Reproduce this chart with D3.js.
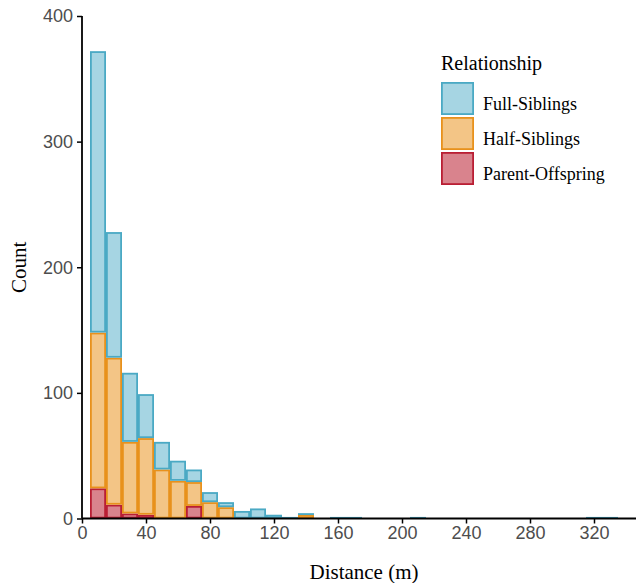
<!DOCTYPE html>
<html>
<head>
<meta charset="utf-8">
<script src="https://d3js.org/d3.v7.min.js"></script>
<style>
  body { margin: 0; background: #fff; }
  svg { display: block; }
</style>
</head>
<body>
<svg id="chart" width="636" height="583"></svg>
<script>
// histogram bins: width 10 m, starting at 5 m
var binStart = 5;
var binWidth = 10;
var binCount = 33;

// counts per bin, stacked bottom to top
var parentOffspring = [24, 11, 4, 3, 0, 0, 10, 0, 0, 0, 0, 0, 0, 0, 0, 0, 0,
    0, 0, 0, 0, 0, 0, 0, 0, 0, 0, 0, 0, 0, 0, 0, 0];
var halfSiblings = [124, 117, 57, 61, 39, 30, 19, 13, 9, 0, 0, 0, 0, 3, 0, 0, 0,
    0, 0, 0, 0, 0, 0, 0, 0, 0, 0, 0, 0, 0, 0, 0, 0];
var fullSiblings = [224, 100, 55, 35, 22, 16, 10, 8, 4, 6, 8, 3, 1, 1, 0, 1, 1,
    0, 0, 0, 1, 0, 0, 0, 0, 0, 0, 0, 0, 0, 0, 1, 1];

var relationships = ["Full-Siblings", "Half-Siblings", "Parent-Offspring"];
var xTicks = [0, 40, 80, 120, 160, 200, 240, 280, 320];
var yTicks = [0, 100, 200, 300, 400];

var colors = {
    "Full-Siblings": { fill: "#a6d5e3", stroke: "#4aa9c4" },
    "Half-Siblings": { fill: "#f3c586", stroke: "#e8911c" },
    "Parent-Offspring": { fill: "#d9838d", stroke: "#b91e34" }
};

var svg = d3.select("#chart");
var plotLeft = 82, plotRight = 636, plotTop = 16, plotBottom = 518.5;

var x = d3.scaleLinear().domain([0, 346.25]).range([plotLeft, plotRight]);
var y = d3.scaleLinear().domain([0, 400]).range([plotBottom, plotTop]);

// stack rows
var rows = d3.range(binCount).map(function (i) {
    return {
        x0: binStart + i * binWidth,
        x1: binStart + (i + 1) * binWidth,
        "Parent-Offspring": parentOffspring[i],
        "Half-Siblings": halfSiblings[i],
        "Full-Siblings": fullSiblings[i]
    };
});
var stack = d3.stack().keys(["Parent-Offspring", "Half-Siblings", "Full-Siblings"]);
var series = stack(rows);

var g = svg.append("g");
series.forEach(function (s) {
    g.selectAll(".bar-" + s.index)
        .data(s.filter(function (d) { return d[1] > d[0]; }))
        .enter().append("rect")
        .attr("x", function (d) { return x(d.data.x0) + 0.9; })
        .attr("width", function (d) { return x(d.data.x1) - x(d.data.x0) - 1.8; })
        .attr("y", function (d) {
            var h = y(d[0]) - y(d[1]);
            return h > 1.9 ? y(d[1]) + 0.9 : y(d[0]) - h / 2 - 0.05;
        })
        .attr("height", function (d) { return Math.max(0.1, y(d[0]) - y(d[1]) - 1.8); })
        .attr("fill", colors[s.key].fill)
        .attr("stroke", colors[s.key].stroke)
        .attr("stroke-width", 1.8);
});

// axes
var tickFont = "'Liberation Sans', Arial, sans-serif";
var xAxis = svg.append("g")
    .attr("transform", "translate(0," + plotBottom + ")")
    .call(d3.axisBottom(x).tickValues(xTicks).tickSize(5).tickPadding(3));
var yAxis = svg.append("g")
    .attr("transform", "translate(" + plotLeft + ",0)")
    .call(d3.axisLeft(y).tickValues(yTicks).tickSize(5).tickPadding(4));

[xAxis, yAxis].forEach(function (a) {
    a.select(".domain").attr("stroke", "#000").attr("stroke-width", 1.8);
    a.selectAll(".tick line").attr("stroke", "#000").attr("stroke-width", 1.5);
    a.selectAll(".tick text")
        .attr("fill", "#4d4d4d")
        .style("font-family", tickFont)
        .style("font-size", "18px");
});
xAxis.select(".domain").attr("d", "M" + plotLeft + ",0H" + plotRight);
yAxis.select(".domain").attr("d", "M0," + plotBottom + "V" + plotTop);

// axis titles
var serif = "'Liberation Serif', 'Times New Roman', serif";
svg.append("text")
    .attr("x", 364)
    .attr("y", 579)
    .attr("text-anchor", "middle")
    .style("font-family", serif)
    .style("font-size", "21px")
    .text("Distance (m)");
svg.append("text")
    .attr("transform", "translate(26," + (plotBottom + plotTop) / 2 + ") rotate(-90)")
    .attr("text-anchor", "middle")
    .style("font-family", serif)
    .style("font-size", "21px")
    .text("Count");

// legend
var legend = svg.append("g").attr("transform", "translate(441,0)");
legend.append("text")
    .attr("x", 0)
    .attr("y", 70)
    .style("font-family", serif)
    .style("font-size", "20px")
    .text("Relationship");
var item = legend.selectAll(".item")
    .data(relationships)
    .enter().append("g")
    .attr("transform", function (d, i) { return "translate(0," + (82 + i * 35) + ")"; });
item.append("rect")
    .attr("x", 0.9).attr("y", 0.9)
    .attr("width", 31.2).attr("height", 31.2)
    .attr("fill", function (d) { return colors[d].fill; })
    .attr("stroke", function (d) { return colors[d].stroke; })
    .attr("stroke-width", 1.8);
item.append("text")
    .attr("x", 42)
    .attr("y", 28)
    .style("font-family", serif)
    .style("font-size", "18px")
    .text(function (d) { return d; });
</script>
</body>
</html>
